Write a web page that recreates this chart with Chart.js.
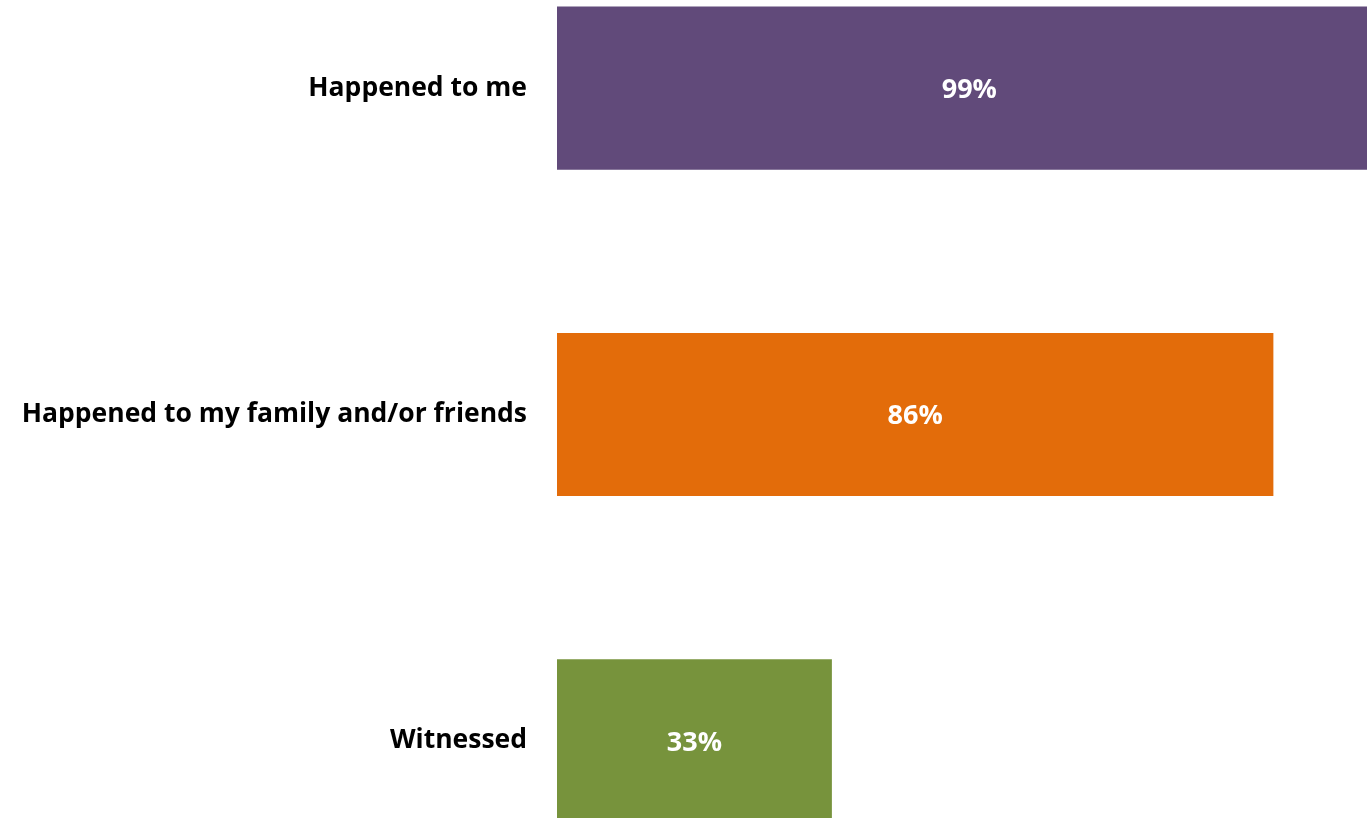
<!DOCTYPE html>
<html>
<head>
<meta charset="utf-8">
<script src="https://cdn.jsdelivr.net/npm/chart.js@4"></script>
<style>
  html, body { margin: 0; padding: 0; background: #fff; overflow: hidden; }
  #wrap { position: relative; width: 1367px; height: 818px; overflow: hidden; }
  #barChart { position: absolute; left: 0; top: -75px; }
</style>
</head>
<body>
<div id="wrap">
  <canvas id="barChart" width="1390" height="979"></canvas>
</div>
<script>
var categories = ['Happened to me', 'Happened to my family and/or friends', 'Witnessed'];
var values = [99, 86, 33];
var barColors = ['#614A7A', '#E36C0A', '#77933C'];

// white percent labels in the middle of each bar
var valueLabels = {
    id: 'valueLabels',
    afterDatasetsDraw: function(chart) {
        var ctx = chart.ctx;
        var meta = chart.getDatasetMeta(0);
        ctx.save();
        ctx.fillStyle = '#ffffff';
        ctx.font = 'bold 27px "Open Sans"';
        ctx.textAlign = 'center';
        ctx.textBaseline = 'middle';
        meta.data.forEach(function(bar, i) {
            var cx = (bar.base + bar.x) / 2;
            ctx.fillText(values[i] + '%', cx, bar.y + 2);
        });
        ctx.restore();
    }
};

var ctx = document.getElementById('barChart');
new Chart(ctx, {
    type: 'bar',
    data: {
        labels: categories,
        datasets: [{
            data: values,
            backgroundColor: barColors,
            borderWidth: 0,
            barPercentage: 0.5,
            categoryPercentage: 1
        }]
    },
    options: {
        indexAxis: 'y',
        responsive: false,
        animation: false,
        layout: { padding: 0 },
        plugins: {
            legend: { display: false },
            tooltip: { enabled: false }
        },
        scales: {
            x: {
                display: false,
                min: 0,
                max: 100
            },
            y: {
                grid: { display: false, drawTicks: false },
                border: { display: false },
                ticks: {
                    color: '#000000',
                    padding: 30,
                    font: { family: '"Open Sans"', size: 26.5, weight: 'bold' }
                },
                afterFit: function(scale) {
                    scale.width = 557;
                    scale.paddingTop = 0;
                    scale.paddingBottom = 0;
                }
            }
        }
    },
    plugins: [valueLabels]
});
</script>
</body>
</html>
